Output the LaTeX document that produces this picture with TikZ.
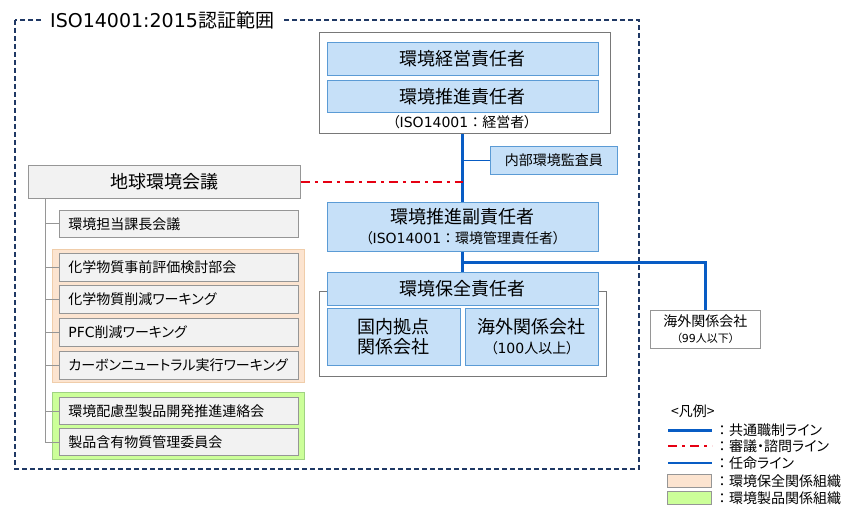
\documentclass[tikz,border=0pt]{standalone}
\usepackage{fontspec}
\setmainfont{Noto Sans CJK JP}[RawFeature=+palt]
\newfontfamily\engfont{DejaVu Sans}
\newfontfamily\fwfont{Noto Sans CJK JP}
\newcommand{\eng}[1]{{\engfont #1}}
\newcommand{\fwcolon}{{\fwfont ：}}
\newcommand{\txtT}{\fontsize{19}{21}\selectfont}
\newcommand{\txtL}{\fontsize{18}{20}\selectfont}
\newcommand{\txtM}{\fontsize{14}{16}\selectfont}
\newcommand{\txtS}{\fontsize{11}{13}\selectfont}
\usepackage{tikz}
\usetikzlibrary{positioning}
\definecolor{boxblue}{RGB}{198,224,248}
\definecolor{edgeblue}{RGB}{91,155,213}
\definecolor{lineblue}{RGB}{8,92,196}
\definecolor{boxgray}{RGB}{242,242,242}
\definecolor{edgegray}{RGB}{150,150,150}
\definecolor{framegray}{RGB}{120,120,120}
\definecolor{envorange}{RGB}{252,228,208}
\definecolor{edgeorange}{RGB}{240,205,170}
\definecolor{envgreen}{RGB}{204,255,153}
\definecolor{edgegreen}{RGB}{160,210,130}
\definecolor{framenavy}{RGB}{31,56,100}
\definecolor{consultred}{RGB}{230,0,18}
\tikzset{
    unitbox/.style={
           rectangle,
           draw=edgeblue, fill=boxblue, line width=0.8pt,
           inner sep=0pt,
           anchor=north west,
           align=center,
           text=black,
           font=\txtL
           },
    councilbox/.style={
           rectangle,
           draw=edgegray, fill=boxgray, line width=0.8pt,
           inner sep=0pt,
           anchor=north west,
           align=center,
           text=black,
           font=\txtL
           },
    committeebox/.style={
           rectangle,
           draw=edgegray, fill=boxgray, line width=0.8pt,
           inner xsep=9pt, inner ysep=0pt,
           text width=221pt, align=left,
           minimum height=27pt,
           anchor=north west,
           text=black,
           font=\txtM
           },
    groupbox/.style={rectangle, line width=1.2pt, inner sep=0pt, anchor=north west},
    framebox/.style={rectangle, draw=framegray, line width=1.2pt, inner sep=0pt, anchor=north west},
    mainline/.style={draw=lineblue, line width=3pt},
    thinline/.style={draw=lineblue, line width=1.4pt},
    redline/.style={draw=consultred, line width=2.6pt, dash pattern=on 9pt off 5pt on 3pt off 5pt},
    treeline/.style={draw=edgegray, line width=0.8pt},
    scopeline/.style={draw=framenavy, line width=1.3pt, dash pattern=on 5pt off 3pt},
    keytext/.style={anchor=west, inner sep=0pt, font=\txtM},
}

\begin{document}
\begin{tikzpicture}[x=1pt,y=-1pt]
\useasboundingbox (0,0) rectangle (850,518);

% certification scope
\draw[scopeline] (15,20) rectangle (639,469);
\node[fill=white, inner xsep=8pt, inner ysep=3pt, anchor=west, font=\txtT] (SCOPE) at (42,20) {\eng{ISO14001:2015}認証範囲};

% management
\node[framebox, minimum width=291pt, minimum height=101pt] (TOPFRAME) at (319,32) {};
\node[unitbox, minimum width=271pt, minimum height=33pt] (ENVEXEC) at (327,42) {環境経営責任者};
\node[unitbox, minimum width=271pt, minimum height=32pt] (ENVPROMO) at (327,80) {環境推進責任者};
\node[font=\txtM, inner sep=0pt] (EXECNOTE) at (462,122) {（\eng{ISO14001}\fwcolon 経営者）};
\node[unitbox, minimum width=127pt, minimum height=28pt, font=\txtM] (AUDITOR) at (490,146) {内部環境監査員};
\node[unitbox, minimum width=271pt, minimum height=49pt] (DEPUTY) at (327,202) {環境推進副責任者\\{\txtM （\eng{ISO14001}\fwcolon 環境管理責任者）}};

% conservation
\node[framebox, minimum width=287pt, minimum height=85pt] (CONSFRAME) at (319,291) {};
\node[unitbox, minimum width=271pt, minimum height=33pt] (CONSERV) at (327,272) {環境保全責任者};
\node[unitbox, minimum width=133pt, minimum height=57pt] (DOMESTIC) at (327,308) {国内拠点\\関係会社};
\node[unitbox, minimum width=133pt, minimum height=57pt] (OVERSEAS) at (465,308) {海外関係会社\\{\txtM （\eng{100}人以上）}};
\node[councilbox, fill=white, minimum width=110pt, minimum height=38pt, font=\txtM] (OVERSEASSMALL) at (650,310) {海外関係会社\\{\txtS （\eng{99}人以下）}};

% global environment council
\node[councilbox, minimum width=272pt, minimum height=33pt] (COUNCIL) at (28,165) {地球環境会議};
\node[groupbox, draw=edgeorange, fill=envorange, minimum width=252pt, minimum height=133pt] (CHEMGROUP) at (52,249) {};
\node[groupbox, draw=edgegreen, fill=envgreen, minimum width=252pt, minimum height=67pt] (PRODGROUP) at (52,392) {};
\node[committeebox] (MANAGERS) at (59,210) {環境担当課長会議};
\node[committeebox, minimum height=28pt] (CHEMASSESS) at (59,253) {化学物質事前評価検討部会};
\node[committeebox, minimum height=28pt] (CHEMREDUCE) at (59,285) {化学物質削減ワーキング};
\node[committeebox, minimum height=28pt] (PFCWG) at (59,318) {\eng{PFC}削減ワーキング};
\node[committeebox, minimum height=28pt] (CARBONWG) at (59,351) {カーボンニュートラル実行ワーキング};
\node[committeebox] (ECODESIGN) at (59,397) {環境配慮型製品開発推進連絡会};
\node[committeebox] (SUBSTANCE) at (59,428) {製品含有物質管理委員会};

% lines
\draw[mainline] (ENVPROMO.south |- TOPFRAME.south) -- (DEPUTY.north);
\draw[mainline] (DEPUTY.south) -- (CONSERV.north);
\draw[mainline] (DEPUTY.south) ++(0,11) -| (OVERSEASSMALL.north);
\draw[thinline] (AUDITOR.west) -- (AUDITOR.west -| DEPUTY.north);
\draw[redline] (COUNCIL.east) -- (COUNCIL.east -| DEPUTY.north);
\coordinate (TREETOP) at ([xshift=17pt]COUNCIL.south west);
\draw[treeline] (TREETOP) |- (SUBSTANCE.west);
\foreach \wg in {MANAGERS,CHEMASSESS,CHEMREDUCE,PFCWG,CARBONWG,ECODESIGN}
    \draw[treeline] (TREETOP |- \wg.west) -- (\wg.west);

% legend
\node[keytext] (KEYTITLE) at (671,411) {<凡例>};
\node[keytext] (KEYMAIN) at (715,430) {\fwcolon 共通職制ライン};
\node[keytext] (KEYCONSULT) at (715,446) {\fwcolon 審議・諮問ライン};
\node[keytext] (KEYAPPOINT) at (715,463) {\fwcolon 任命ライン};
\node[keytext] (KEYCONS) at (715,481) {\fwcolon 環境保全関係組織};
\node[keytext] (KEYPROD) at (715,498) {\fwcolon 環境製品関係組織};
\draw[mainline] ([xshift=-47pt]KEYMAIN.west) -- ([xshift=-3pt]KEYMAIN.west);
\draw[redline] ([xshift=-47pt]KEYCONSULT.west) -- ([xshift=-3pt]KEYCONSULT.west);
\draw[thinline] ([xshift=-47pt]KEYAPPOINT.west) -- ([xshift=-3pt]KEYAPPOINT.west);
\node[groupbox, draw=edgegray, fill=envorange, minimum width=44pt, minimum height=13pt, anchor=east] (SWATCHCONS) at ([xshift=-3pt]KEYCONS.west) {};
\node[groupbox, draw=edgegray, fill=envgreen, minimum width=44pt, minimum height=13pt, anchor=east] (SWATCHPROD) at ([xshift=-3pt]KEYPROD.west) {};

\end{tikzpicture}
\end{document}
